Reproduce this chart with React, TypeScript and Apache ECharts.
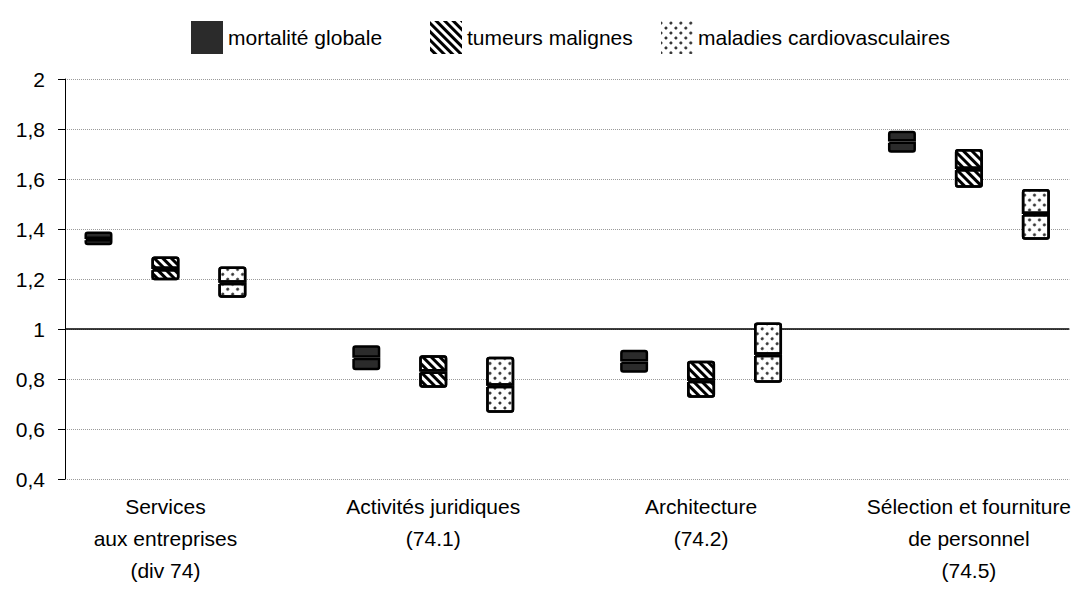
import React, { useEffect, useRef } from "react";
import * as echarts from "echarts";

// ---- data ----
const CATEGORY_LABELS = [
  "Services\naux entreprises\n(div 74)",
  "Activités juridiques\n(74.1)",
  "Architecture\n(74.2)",
  "Sélection et fourniture\nde personnel\n(74.5)",
];
const SERIES_NAMES = ["mortalité globale", "tumeurs malignes", "maladies cardiovasculaires"];

const MORT_LOW = [1.335, 0.835, 0.825, 1.705];
const MORT_MID = [1.36, 0.885, 0.87, 1.75];
const MORT_HIGH = [1.39, 0.935, 0.917, 1.793];

const TUM_LOW = [1.195, 0.765, 0.725, 1.565];
const TUM_MID = [1.24, 0.83, 0.793, 1.64];
const TUM_HIGH = [1.29, 0.895, 0.873, 1.72];

const CARD_LOW = [1.125, 0.665, 0.785, 1.357];
const CARD_MID = [1.185, 0.773, 0.897, 1.46];
const CARD_HIGH = [1.25, 0.889, 1.026, 1.56];

const Y_MIN = 0.4;
const Y_MAX = 2;
const Y_INTERVAL = 0.2;
const REFERENCE_LINE = 1;

// ---- layout helpers ----
const SLOTS_PER_GROUP = 4; // 3 boxes + 1 gap
const SLOT_COUNT = CATEGORY_LABELS.length * SLOTS_PER_GROUP - 1;
const SLOT_IDS = Array.from({ length: SLOT_COUNT }, (_, i) => "s" + i);

const NARROW = '"Liberation Sans Narrow", "Arial Narrow", "Liberation Sans", Arial, sans-serif';
const REGULAR = '"Liberation Sans", Arial, sans-serif';

const DECALS: any[] = [
  null,
  {
    symbol: "rect",
    symbolSize: 1,
    color: "#000",
    dashArrayX: [1, 0],
    dashArrayY: [2.5, 2.5],
    rotation: Math.PI / 4,
  },
  {
    symbol: "circle",
    symbolSize: 1,
    color: "#2a2a2a",
    dashArrayX: [2.5, 4],
    dashArrayY: [2.5, 4],
    rotation: Math.PI / 4,
  },
];
const FILLS = ["#2b2b2b", "#ffffff", "#ffffff"];

function slotData(values: number[], s: number) {
  const arr: any[] = SLOT_IDS.map(() => "-");
  values.forEach((v, g) => {
    arr[g * SLOTS_PER_GROUP + s] = v;
  });
  return arr;
}

function buildSeries() {
  const lows = [MORT_LOW, TUM_LOW, CARD_LOW];
  const mids = [MORT_MID, TUM_MID, CARD_MID];
  const highs = [MORT_HIGH, TUM_HIGH, CARD_HIGH];
  const series: any[] = [];
  SERIES_NAMES.forEach((name, s) => {
    const low = lows[s];
    const mid = mids[s];
    const high = highs[s];
    const base: any = {
      type: "bar",
      name: "_base" + s,
      stack: "all",
      barWidth: 28,
      silent: true,
      z: 1,
      itemStyle: { color: "rgba(0,0,0,0)" },
      data: slotData(low, s),
    };
    if (s === 0) {
      base.markLine = {
        silent: true,
        z: 1,
        symbol: "none",
        label: { show: false },
        lineStyle: { color: "#000", width: 1.5, type: "solid" },
        data: [{ yAxis: REFERENCE_LINE }],
      };
    }
    series.push(base);
    const style = (radius: number[]) => ({
      color: FILLS[s],
      borderColor: "#000",
      borderWidth: 2.5,
      borderRadius: radius,
      decal: DECALS[s] || undefined,
    });
    series.push({
      type: "bar",
      name,
      stack: "all",
      barWidth: 28,
      z: 3,
      itemStyle: style([0, 0, 2, 2]),
      data: slotData(
        low.map((l, i) => +(mid[i] - l).toFixed(4)),
        s
      ),
    });
    series.push({
      type: "bar",
      name,
      stack: "all",
      barWidth: 28,
      z: 3,
      itemStyle: style([2, 2, 0, 0]),
      data: slotData(
        mid.map((m, i) => +(high[i] - m).toFixed(4)),
        s
      ),
    });
  });
  return series;
}

const LEGEND_LEFT = [186, 425, 656];

export default function App() {
  const ref = useRef<HTMLDivElement>(null);
  useEffect(() => {
    if (!ref.current) return;
    const chart = echarts.init(ref.current, null, { renderer: "svg" });
    chart.setOption({
      animation: false,
      backgroundColor: "#fff",
      legend: SERIES_NAMES.map((n, i) => ({
        data: [n],
        left: LEGEND_LEFT[i],
        top: 16,
        itemWidth: 32,
        itemHeight: 33,
        icon: "rect",
        selectedMode: false,
        itemStyle: { borderWidth: 0 },
        textStyle: { fontFamily: NARROW, fontSize: 21, color: "#000" },
      })),
      grid: { left: 65, right: 3, top: 79, bottom: 116, containLabel: false },
      xAxis: {
        type: "category",
        data: SLOT_IDS,
        axisLine: { show: false },
        axisTick: { show: false },
        splitLine: { show: false },
        axisLabel: {
          interval: 0,
          margin: 11,
          fontFamily: NARROW,
          fontSize: 21,
          lineHeight: 32,
          color: "#000",
          formatter: (_v: string, idx: number) =>
            idx % SLOTS_PER_GROUP === 1 ? CATEGORY_LABELS[Math.floor(idx / SLOTS_PER_GROUP)] : "",
        },
      },
      yAxis: {
        type: "value",
        min: Y_MIN,
        max: Y_MAX,
        interval: Y_INTERVAL,
        axisLine: { show: true, lineStyle: { color: "#000", width: 1 } },
        axisTick: { show: true, length: 7, lineStyle: { color: "#000" } },
        splitLine: { show: true, lineStyle: { color: "#9a9a9a", type: "dotted", width: 1 } },
        axisLabel: {
          fontFamily: REGULAR,
          fontSize: 21,
          color: "#000",
          margin: 20,
          formatter: (v: number) => String(+v.toFixed(1)).replace(".", ","),
        },
      },
      series: buildSeries(),
    });
    return () => chart.dispose();
  }, []);
  return (
    <div
      ref={ref}
      style={{ position: "fixed", left: 0, top: 0, width: 1074, height: 595, background: "#fff" }}
    />
  );
}
